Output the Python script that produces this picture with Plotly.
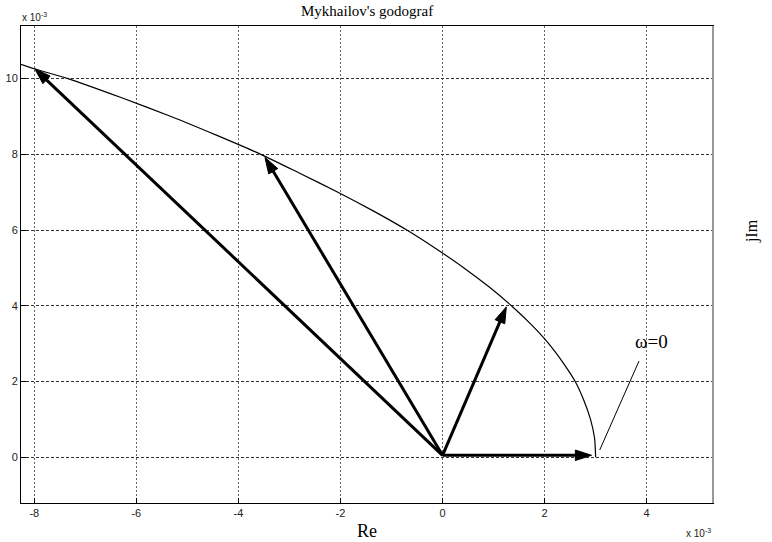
import plotly.graph_objects as go

# Mikhailov hodograph, values in units of 1e-3
curve_im = [0.0, 0.5, 1.0, 1.5, 2.0, 2.5, 3.0, 3.5, 4.0, 4.5, 5.0, 5.5,
            6.0, 6.5, 7.0, 7.5, 8.0, 8.5, 9.0, 9.5, 10.0, 10.26, 10.5]
curve_re = [3.0, 2.98, 2.9, 2.77, 2.6, 2.36, 2.08, 1.74, 1.35, 0.91, 0.42, -0.12,
            -0.7, -1.35, -2.05, -2.8, -3.56, -4.42, -5.32, -6.3, -7.34, -8.0, -8.52]

# vectors from the origin to selected hodograph points
vec_origin = (0.0, 0.05)
vec_re = [2.92, 1.25, -3.48, -7.99]
vec_im = [0.05, 3.97, 7.92, 10.26]

x_ticks = [-8, -6, -4, -2, 0, 2, 4]
y_ticks = [0, 2, 4, 6, 8, 10]
x_range = [-8.26, 5.3]
y_range = [-1.21, 11.39]

# leader line for the omega = 0 label
leader_re = [3.08, 3.85]
leader_im = [0.19, 2.54]
label_pos = (4.1, 3.05)

fig = go.Figure()

fig.add_trace(go.Scatter(
    x=curve_re, y=curve_im, mode="lines",
    line=dict(color="black", width=1.2, shape="spline", smoothing=0.6),
    hoverinfo="skip", showlegend=False,
))

for xr, yi in zip(vec_re, vec_im):
    fig.add_trace(go.Scatter(
        x=[vec_origin[0], xr], y=[vec_origin[1], yi],
        mode="lines+markers",
        line=dict(color="black", width=3),
        marker=dict(symbol=["circle", "arrow"], size=[0, 17],
                    angleref="previous", color="black", opacity=1,
                    line=dict(width=1, color="black")),
        hoverinfo="skip", showlegend=False,
    ))

fig.add_trace(go.Scatter(
    x=leader_re, y=leader_im, mode="lines",
    line=dict(color="black", width=1),
    hoverinfo="skip", showlegend=False,
))

fig.add_annotation(
    x=label_pos[0], y=label_pos[1], xref="x", yref="y",
    text="ω=0", showarrow=False,
    font=dict(family="Liberation Serif", size=19, color="black"),
)

tick_font = dict(family="Liberation Sans", size=11, color="#222")

fig.update_xaxes(
    range=x_range, tickvals=x_ticks, ticktext=[str(v) for v in x_ticks],
    showgrid=True, gridcolor="#666", griddash="2px,2px", gridwidth=1,
    zeroline=False, showline=True, linecolor="black", linewidth=1, mirror=True,
    ticks="inside", ticklen=5, tickcolor="black", tickfont=tick_font,
)
fig.update_yaxes(
    range=y_range, tickvals=y_ticks, ticktext=[str(v) for v in y_ticks],
    showgrid=True, gridcolor="#333", griddash="3px,2px", gridwidth=1,
    zeroline=False, showline=True, linecolor="black", linewidth=1, mirror=True,
    ticks="inside", ticklen=5, tickcolor="black", tickfont=tick_font,
)

# right frame edge drawn in grey
fig.add_shape(type="line", xref="paper", yref="paper", x0=1, x1=1, y0=0, y1=1,
              line=dict(color="#999", width=2))

serif = "Liberation Serif"
fig.add_annotation(text="Mykhailov's godograf", xref="paper", yref="paper",
                   x=0.5, y=1, yanchor="middle", yshift=15, showarrow=False,
                   font=dict(family=serif, size=15, color="black"))
fig.add_annotation(text="Re", xref="paper", yref="paper", x=0.5, y=0,
                   yanchor="middle", yshift=-28, showarrow=False,
                   font=dict(family=serif, size=18, color="black"))
fig.add_annotation(text="jIm", xref="paper", yref="paper", x=1, y=0.57,
                   xshift=50, textangle=-90, showarrow=False,
                   font=dict(family=serif, size=16, color="black"))
fig.add_annotation(text="x 10<sup>-3</sup>", xref="paper", yref="paper",
                   x=0, y=1, xanchor="left", yanchor="middle", yshift=9,
                   xshift=-1, showarrow=False,
                   font=dict(family="Liberation Sans", size=10, color="#222"))
fig.add_annotation(text="x 10<sup>-3</sup>", xref="paper", yref="paper",
                   x=1, y=0, xanchor="right", yanchor="middle", yshift=-30,
                   showarrow=False,
                   font=dict(family="Liberation Sans", size=10, color="#222"))

fig.update_layout(
    width=772, height=542,
    margin=dict(l=21, r=59, t=26, b=39, autoexpand=False),
    plot_bgcolor="white", paper_bgcolor="white",
)

fig.write_html("out.html")
